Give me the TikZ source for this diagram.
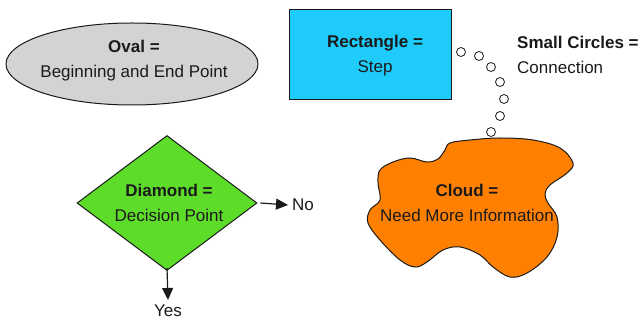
\documentclass[tikz,border=0pt]{standalone}
\usepackage{fontspec}
\setmainfont{Liberation Sans}
\usetikzlibrary{shapes.geometric,arrows.meta}
\definecolor{ovalgray}{HTML}{D3D3D3}
\definecolor{rectblue}{HTML}{1ECBFB}
\definecolor{diagreen}{HTML}{5EDC2A}
\definecolor{cloudorange}{HTML}{FF8000}
\definecolor{ink}{HTML}{1A1A1A}
\tikzset{
  shapeline/.style={draw=ink, line width=1pt},
  label2/.style={align=center, text=ink, inner sep=0pt, font=\fontsize{17}{25}\selectfont},
  plaintext/.style={text=ink, font=\fontsize{17}{25}\selectfont, inner sep=0pt},
  smallcirc/.style={circle, draw=ink, line width=0.8pt, fill=white, minimum size=9pt, inner sep=0pt},
  flowarrow/.style={draw=ink, line width=1.2pt, -{Triangle[length=12pt,width=11pt]}}
}
\begin{document}
\begin{tikzpicture}[x=1pt,y=-1pt]
\useasboundingbox (0,0) rectangle (642,320);
% oval
\node[ellipse, shapeline, fill=ovalgray, minimum width=252pt, minimum height=82pt] (oval) at (132,64) {};
\node[label2] (ovaltext) at (134,60.5) {\textbf{Oval =}\\Beginning and End Point};
% rectangle
\node[rectangle, shapeline, fill=rectblue, minimum width=162pt, minimum height=90pt] (rect) at (370,55) {};
\node[label2] (recttext) at (375,55.5) {\textbf{Rectangle =}\\Step};
% small circles
\node[smallcirc] (c1) at (461,52) {};
\node[smallcirc] (c2) at (479,56) {};
\node[smallcirc] (c3) at (491,67) {};
\node[smallcirc] (c4) at (500,82) {};
\node[smallcirc] (c5) at (504,99) {};
\node[smallcirc] (c6) at (500,116) {};
\node[smallcirc] (c7) at (491,132) {};
\node[plaintext, anchor=west, align=left] (circtext) at (517,55)
  {\textbf{Small Circles =}\\Connection};
% diamond
\node[diamond, shapeline, fill=diagreen, aspect=1.33, minimum width=180pt, minimum height=135pt, inner sep=0pt] (dia) at (167,203) {};
\node[label2] (diatext) at (169,203) {\textbf{Diamond =}\\Decision Point};
\node[plaintext, anchor=west] (no) at (292,205) {No};
\node[plaintext, anchor=center] (yes) at (168,310.5) {Yes};
\coordinate (noend) at (288,205);
\coordinate (yesend) at (168,300);
\draw[flowarrow] ([xshift=3pt]dia.east) -- (noend);
\draw[flowarrow] ([yshift=3pt]dia.south) -- (yesend);
% cloud
\draw[shapeline, fill=cloudorange] plot[smooth cycle, tension=0.6] coordinates {
  (450,143) (470,140) (500,138) (533,140) (560,148) (573,163) (567,173)
  (550,185) (545,194) (548,203) (557,217) (557,237) (547,257) (527,273)
  (510,277) (493,267) (480,255) (460,247) (443,250) (427,262) (415,267)
  (400,260) (380,240) (368,223) (370,210) (380,200) (378,183) (380,170)
  (393,162) (410,158) (427,162) (438,159) (445,150)};
\node[label2] (cloud) at (467,203) {\textbf{Cloud =}\\Need More Information};
\end{tikzpicture}
\end{document}
